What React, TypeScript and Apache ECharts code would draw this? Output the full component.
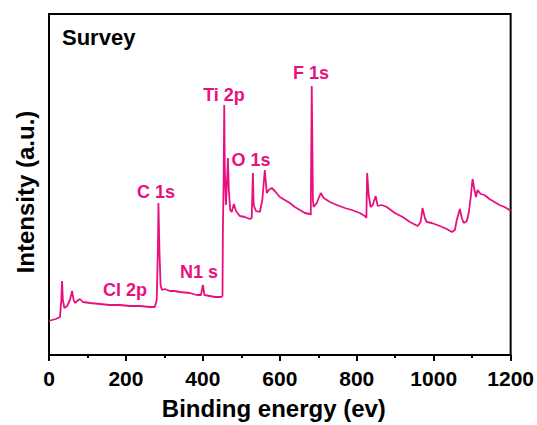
import React, { useEffect, useRef } from "react";
import * as echarts from "echarts";

// Binding energy (eV) of traced points
const energy: number[] = [
  0, 7.8, 18, 28.6, 32, 34, 36, 40, 47, 54.5, 60, 64, 67.5, 73, 80.5, 88, 106.5, 132.5, 158, 184, 210, 236, 262, 275,
  280, 283, 284.5, 287, 290, 293.5, 301, 314, 327, 340, 366, 384, 395, 400, 404, 418, 431, 447,
  451, 452, 454, 455.5, 457, 460, 463.5, 465, 467.5, 471, 475, 480.5, 486, 496, 509, 522, 527,
  530, 532, 538, 548, 554.5, 561, 566, 571, 579, 587, 600, 613, 626, 639, 652, 665, 678, 680.5,
  683, 686, 688, 696, 706.5, 714, 730, 748, 769, 787, 808, 821, 825, 827, 831, 836, 841.5, 849,
  854.5, 865, 878, 899, 919.5, 938, 958.5, 966, 971, 977, 982, 995, 1016, 1034, 1047, 1055, 1060,
  1068, 1073, 1078, 1086, 1091, 1096, 1101, 1106, 1110, 1114, 1122, 1132, 1145, 1158, 1171, 1184, 1197, 1200,
];
// Intensity (a.u.)
const intensity: number[] = [
  34, 35, 36, 38, 55, 74, 55, 47, 49, 55, 64, 55, 52, 54, 56, 53, 52, 51, 50, 50, 49, 49, 48, 48,
  55, 105, 152, 105, 70, 65, 66, 64, 64, 63, 62, 60, 60, 70, 60, 59, 58, 58,
  59, 125, 175, 250, 185, 150, 180, 197, 165, 145, 143, 151, 144, 139, 138, 136, 137,
  182, 150, 144, 143, 155, 185, 162, 165, 167, 164, 158, 155, 152, 148, 145, 142, 141, 140,
  269, 155, 148, 152, 162, 157, 153, 150, 147, 145, 142, 139, 137, 182, 160, 148, 150, 159,
  149, 150, 148, 142, 138, 133, 129, 133, 147, 137, 133, 132, 129, 126, 123, 125, 135,
  146, 137, 132, 134, 142, 157, 176, 165, 158, 165, 161, 160, 156, 153, 150, 148, 145, 144,
];

const xTicks = { min: 0, max: 1200, interval: 200 };
const yRange = { min: 0, max: 341 };

const peakLabels: { text: string; x: number; y: number }[] = [
  { text: "F 1s", x: 311, y: 73 },
  { text: "Ti 2p", x: 224, y: 95 },
  { text: "O 1s", x: 251, y: 160 },
  { text: "C 1s", x: 156, y: 192 },
  { text: "N1 s", x: 199, y: 272 },
  { text: "Cl 2p", x: 125, y: 290 },
];

const PINK = "#E8107F";
const FONT = "'Liberation Sans', Arial, sans-serif";

export default function App() {
  const ref = useRef<HTMLDivElement>(null);
  useEffect(() => {
    if (!ref.current) return;
    const chart = echarts.init(ref.current, undefined, { renderer: "svg" });
    const data = energy.map((e, i) => [e, intensity[i]]);
    chart.setOption({
      animation: false,
      backgroundColor: "#ffffff",
      grid: {
        left: 49,
        right: 26,
        top: 14,
        bottom: 70,
        show: true,
        borderColor: "#000",
        borderWidth: 2,
        backgroundColor: "transparent",
      },
      xAxis: {
        type: "value",
        min: xTicks.min,
        max: xTicks.max,
        interval: xTicks.interval,
        name: "Binding energy (ev)",
        nameLocation: "middle",
        nameGap: 41,
        nameTextStyle: { fontFamily: FONT, fontWeight: "bold", fontSize: 24, color: "#000", padding: [0, 12, 0, 0] },
        axisLine: { show: true, lineStyle: { color: "#000", width: 2 } },
        axisTick: { show: true, inside: false, length: 6, lineStyle: { color: "#000", width: 2 } },
        minorTick: { show: true, splitNumber: 2, length: 3, lineStyle: { color: "#000", width: 2 } },
        splitLine: { show: false },
        axisLabel: {
          fontFamily: FONT,
          fontWeight: "bold",
          fontSize: 21,
          color: "#000",
          margin: 13,
          formatter: (v: number) => String(v),
        },
      },
      yAxis: {
        type: "value",
        min: yRange.min,
        max: yRange.max,
        axisLine: { show: true, lineStyle: { color: "#000", width: 2 } },
        axisTick: { show: false },
        axisLabel: { show: false },
        splitLine: { show: false },
      },
      series: [
        {
          type: "line",
          data,
          showSymbol: false,
          symbol: "none",
          lineStyle: { color: PINK, width: 1.8 },
        },
      ],
      graphic: [
        {
          type: "text",
          x: 25,
          y: 192,
          rotation: Math.PI / 2,
          style: {
            text: "Intensity (a.u.)",
            fontFamily: FONT,
            fontWeight: "bold",
            fontSize: 24,
            fill: "#000",
            align: "center",
            verticalAlign: "middle",
          },
        },
        {
          type: "text",
          left: 62,
          top: 26,
          style: { text: "Survey", fontFamily: FONT, fontWeight: "bold", fontSize: 22, fill: "#000" },
        },
        ...peakLabels.map((p) => ({
          type: "text",
          x: p.x,
          y: p.y,
          style: {
            text: p.text,
            fontFamily: FONT,
            fontWeight: "bold",
            fontSize: 18,
            fill: PINK,
            align: "center",
            verticalAlign: "middle",
          },
        })),
      ],
    });
    return () => chart.dispose();
  }, []);
  return (
    <div
      ref={ref}
      style={{ position: "fixed", left: 0, top: 0, width: 537, height: 425 }}
    />
  );
}
